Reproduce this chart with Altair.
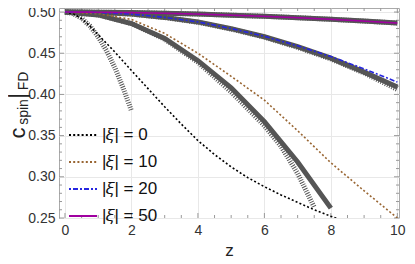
import altair as alt
import pandas as pd

# ---------------- data ----------------
z_xi0 = [0, 0.25, 0.5, 0.75, 1, 1.5, 2, 2.5, 3, 3.5, 4, 4.5, 5, 5.5, 6, 6.5, 7, 7.5, 8, 8.5]
c_xi0 = [0.5, 0.498, 0.492, 0.483, 0.4725, 0.4515, 0.429, 0.407, 0.385, 0.364, 0.344,
         0.327, 0.312, 0.299, 0.288, 0.278, 0.269, 0.260, 0.252, 0.245]

z_int = [0, 1, 2, 3, 4, 4.5, 5, 6, 7, 8, 9, 10]
c_xi10 = [0.5, 0.498, 0.491, 0.474, 0.450, 0.436, 0.422, 0.393, 0.356, 0.317, 0.283, 0.25]

z_std = [0, 1, 2, 3, 4, 5, 6, 7, 8, 9, 10]
c_xi20 = [0.5, 0.4995, 0.4975, 0.4935, 0.488, 0.480, 0.4705, 0.459, 0.446, 0.431, 0.415]
c_xi50 = [0.5, 0.4998, 0.4993, 0.4985, 0.4975, 0.4962, 0.4948, 0.4931, 0.4912, 0.489, 0.4866]

# gray approximations
z_a0 = [0, 0.25, 0.5, 0.75, 1, 1.25, 1.5, 1.75, 2]
c_dot0 = [0.5, 0.498, 0.4925, 0.483, 0.47, 0.453, 0.4325, 0.408, 0.38]

z_a10s = [0, 1, 2, 3, 4, 5, 6, 7, 8]
c_sol10 = [0.5, 0.4965, 0.486, 0.468, 0.441, 0.408, 0.367, 0.318, 0.262]
z_a10d = [0, 1, 2, 3, 4, 5, 6, 6.5, 7, 7.5]
c_dot10 = [0.5, 0.4965, 0.486, 0.467, 0.439, 0.403, 0.362, 0.337, 0.304, 0.263]

c_sol20 = [0.5, 0.4995, 0.4975, 0.4935, 0.488, 0.4798, 0.470, 0.458, 0.444, 0.427, 0.409]
c_dot20 = [0.5, 0.4995, 0.4975, 0.4933, 0.4875, 0.4793, 0.4695, 0.457, 0.443, 0.426, 0.406]

xi_labels = ["|\U0001D709| = 0", "|\U0001D709| = 10", "|\U0001D709| = 20", "|\U0001D709| = 50"]
xi_colors = ["#000000", "#996633", "#2626e0", "#a000a0"]
xi_dashes = [[2, 2.2], [2, 2.2], [2, 2, 5, 2], [1, 0]]

x_major = [0, 2, 4, 6, 8, 10]
x_minor = [0.5, 1, 1.5, 2.5, 3, 3.5, 4.5, 5, 5.5, 6.5, 7, 7.5, 8.5, 9, 9.5]
y_major = [0.25, 0.30, 0.35, 0.40, 0.45, 0.50]
y_minor = [v / 100 for v in range(26, 51) if v % 5 != 0]

# ---------------- tables ----------------
main = pd.concat([
    pd.DataFrame({"z": z_xi0, "c": c_xi0, "s": xi_labels[0]}),
    pd.DataFrame({"z": z_int, "c": c_xi10, "s": xi_labels[1]}),
    pd.DataFrame({"z": z_std, "c": c_xi20, "s": xi_labels[2]}),
    pd.DataFrame({"z": z_std, "c": c_xi50, "s": xi_labels[3]}),
])
solid = pd.concat([
    pd.DataFrame({"z": z_a10s, "c": c_sol10, "s": "a"}),
    pd.DataFrame({"z": z_std, "c": c_sol20, "s": "b"}),
    pd.DataFrame({"z": z_std, "c": c_xi50, "s": "c"}),
])
dotted = pd.concat([
    pd.DataFrame({"z": z_a0, "c": c_dot0, "s": "a"}),
    pd.DataFrame({"z": z_a10d, "c": c_dot10, "s": "b"}),
    pd.DataFrame({"z": z_std, "c": c_dot20, "s": "c"}),
    pd.DataFrame({"z": z_std, "c": c_xi50, "s": "d"}),
])

W, H = 340, 210
xs = alt.Scale(domain=[-0.18, 10.05], nice=False, zero=False)
ys = alt.Scale(domain=[0.25, 0.5049], nice=False, zero=False)
FONT = "Liberation Sans"
xaxis = alt.Axis(values=x_major, title="z", ticks=False, domain=False, grid=True,
                 gridColor="#e8e8e8", labelFontSize=14, labelFont=FONT, labelColor="#333",
                 labelPadding=5, titleFontSize=17, titleFont=FONT, titleFontWeight="normal",
                 titleColor="#222", titleBaseline="alphabetic", titleY=37, format="d")
yaxis = alt.Axis(values=y_major, title=None, ticks=False, domain=False, grid=True,
                 gridColor="#e8e8e8", labelFontSize=14, labelFont=FONT, labelColor="#333",
                 labelPadding=4, format=".2f")
X = alt.X("z:Q", scale=xs, axis=xaxis)
Y = alt.Y("c:Q", scale=ys, axis=yaxis)

gray_solid = alt.Chart(solid).mark_line(color="#555555", strokeWidth=5, clip=True,
                                        strokeCap="butt").encode(x=X, y=Y, detail="s:N")
gray_dot = alt.Chart(dotted).mark_line(color="#555555", strokeWidth=5, clip=True,
                                       strokeDash=[1, 1.4]).encode(x=X, y=Y, detail="s:N")

lines = alt.Chart(main).mark_line(strokeWidth=1.6, clip=True).encode(
    x=X, y=Y,
    color=alt.Color("s:N", scale=alt.Scale(domain=xi_labels, range=xi_colors),
                    legend=alt.Legend(orient="none", legendX=9, legendY=112, title=None,
                                      symbolType="stroke", symbolSize=784,
                                      symbolStrokeWidth=2, labelFontSize=17,
                                      labelFont=FONT, labelColor="#111", labelOffset=4,
                                      rowPadding=4, padding=0, labelLimit=200)),
    strokeDash=alt.StrokeDash("s:N", scale=alt.Scale(domain=xi_labels, range=xi_dashes),
                              legend=alt.Legend(orient="none", legendX=9, legendY=112,
                                                title=None)),
)

tick_col = "#999999"
def xticks(vals, length):
    d = pd.DataFrame({"z": vals})
    b = alt.Chart(d).mark_rule(color=tick_col, strokeWidth=1).encode(
        x=X, y=alt.value(H), y2=alt.value(H - length))
    t = alt.Chart(d).mark_rule(color=tick_col, strokeWidth=1).encode(
        x=X, y=alt.value(0), y2=alt.value(length))
    return b + t

def yticks(vals, length):
    d = pd.DataFrame({"c": vals})
    l = alt.Chart(d).mark_rule(color=tick_col, strokeWidth=1).encode(
        y=Y, x=alt.value(0), x2=alt.value(length))
    r = alt.Chart(d).mark_rule(color=tick_col, strokeWidth=1).encode(
        y=Y, x=alt.value(W), x2=alt.value(W - length))
    return l + r

def ylab(txt, px, py, size):
    return alt.Chart(pd.DataFrame({"t": [txt]})).mark_text(
        angle=270, align="center", baseline="middle", font=FONT, fontSize=size,
        color="#222").encode(text="t:N", x=alt.value(px), y=alt.value(py))

title_parts = (ylab("c", -41, 125, 22) + ylab("spin", -35, 104, 14)
               + ylab("|", -41, 88, 24) + ylab("FD", -35, 73, 14))

chart = alt.layer(
    xticks(x_major, 5), xticks(x_minor, 3), yticks(y_major, 5), yticks(y_minor, 3),
    gray_solid, gray_dot, lines, title_parts
).properties(
    width=W, height=H,
    padding={"left": 51, "top": 0, "right": 8, "bottom": 38},
    autosize=alt.AutoSizeParams(type="none"),
).configure_view(stroke="#aaaaaa", strokeWidth=1)

chart.save("out.html", embed_options={"renderer": "svg", "actions": False})
